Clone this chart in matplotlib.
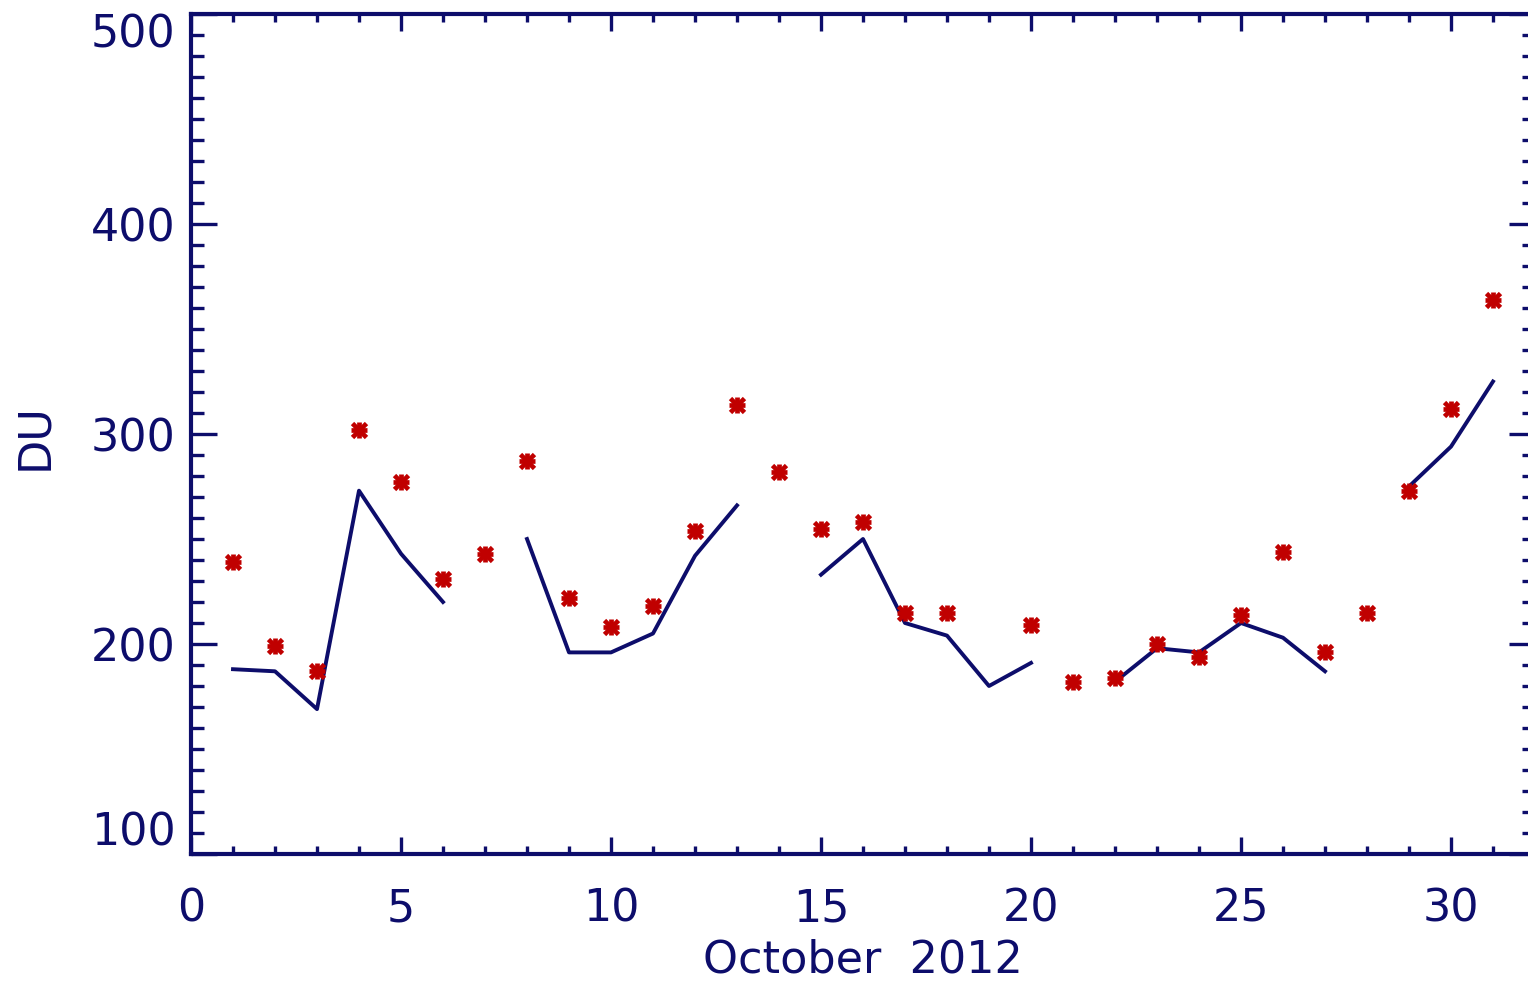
import matplotlib
matplotlib.use("Agg")
import matplotlib.pyplot as plt
import numpy as np

nan = np.nan

days = np.arange(1, 32)
# red asterisks (daily values, DU); day 19 missing
starValues = [239, 199, 187, 302, 277, 231, 243, 287, 222, 208, 218, 254, 314, 282, 255,
              258, 215, 215, nan, 209, 182, 184, 200, 194, 214, 244, 196, 215, 273, 312, 364]
# blue line with gaps
lineValues = [188, 187, 169, 273, 243, 220, nan, 250, 196, 196, 205, 242, 266, nan, 233,
              250, 210, 204, 180, 191, nan, 182, 198, 196, 210, 203, 187, nan, 275, 294, 325]

xTicks = [0, 5, 10, 15, 20, 25, 30]
yTicks = [100, 200, 300, 400, 500]

navy = "#0d0d6b"
red = "#c00000"

W, H = 1528, 984
fig = plt.figure(figsize=(W / 100, H / 100), dpi=100)
ax = fig.add_axes([191 / W, (H - 854) / H, (1535 - 191) / W, (854 - 14) / H])

ax.plot(days, lineValues, color=navy, lw=2.8, zorder=2)
ax.plot(days, starValues, linestyle="none", marker="x", markersize=10,
        mew=3.4, color=red, zorder=3)
ax.plot(days, starValues, linestyle="none", marker="+", markersize=11,
        mew=3.4, color=red, zorder=3)

ax.set_xlim(0, 32)
ax.set_ylim(100, 500)
ax.set_xticks(xTicks)
ax.set_xticks(np.arange(0, 33, 1), minor=True)
ax.set_yticks(yTicks)
ax.set_yticks(np.arange(100, 501, 10), minor=True)

for side in ["left", "bottom", "top", "right"]:
    ax.spines[side].set_color(navy)
    ax.spines[side].set_linewidth(3)

ax.tick_params(axis="x", which="major", direction="in", length=12, width=2.4,
               colors=navy, top=True, pad=24, labelsize=32)
ax.tick_params(axis="x", which="minor", direction="in", length=6, width=2.4,
               colors=navy, top=True)
ax.tick_params(axis="y", which="major", direction="in", length=19, width=2.4,
               colors=navy, right=True, pad=11, labelsize=32)
ax.tick_params(axis="y", which="minor", direction="in", length=9.5, width=2.4,
               colors=navy, right=True)

ylabels = ax.get_yticklabels()
ylabels[0].set_verticalalignment("bottom")
ylabels[-1].set_verticalalignment("top")

ax.set_xlabel("October  2012", fontsize=32, color=navy, labelpad=6)
fig.text(35 / W, 1 - 437 / H, "DU", rotation=90, ha="center", va="center",
         fontsize=32, color=navy)

fig.savefig("out.png", dpi=100)
